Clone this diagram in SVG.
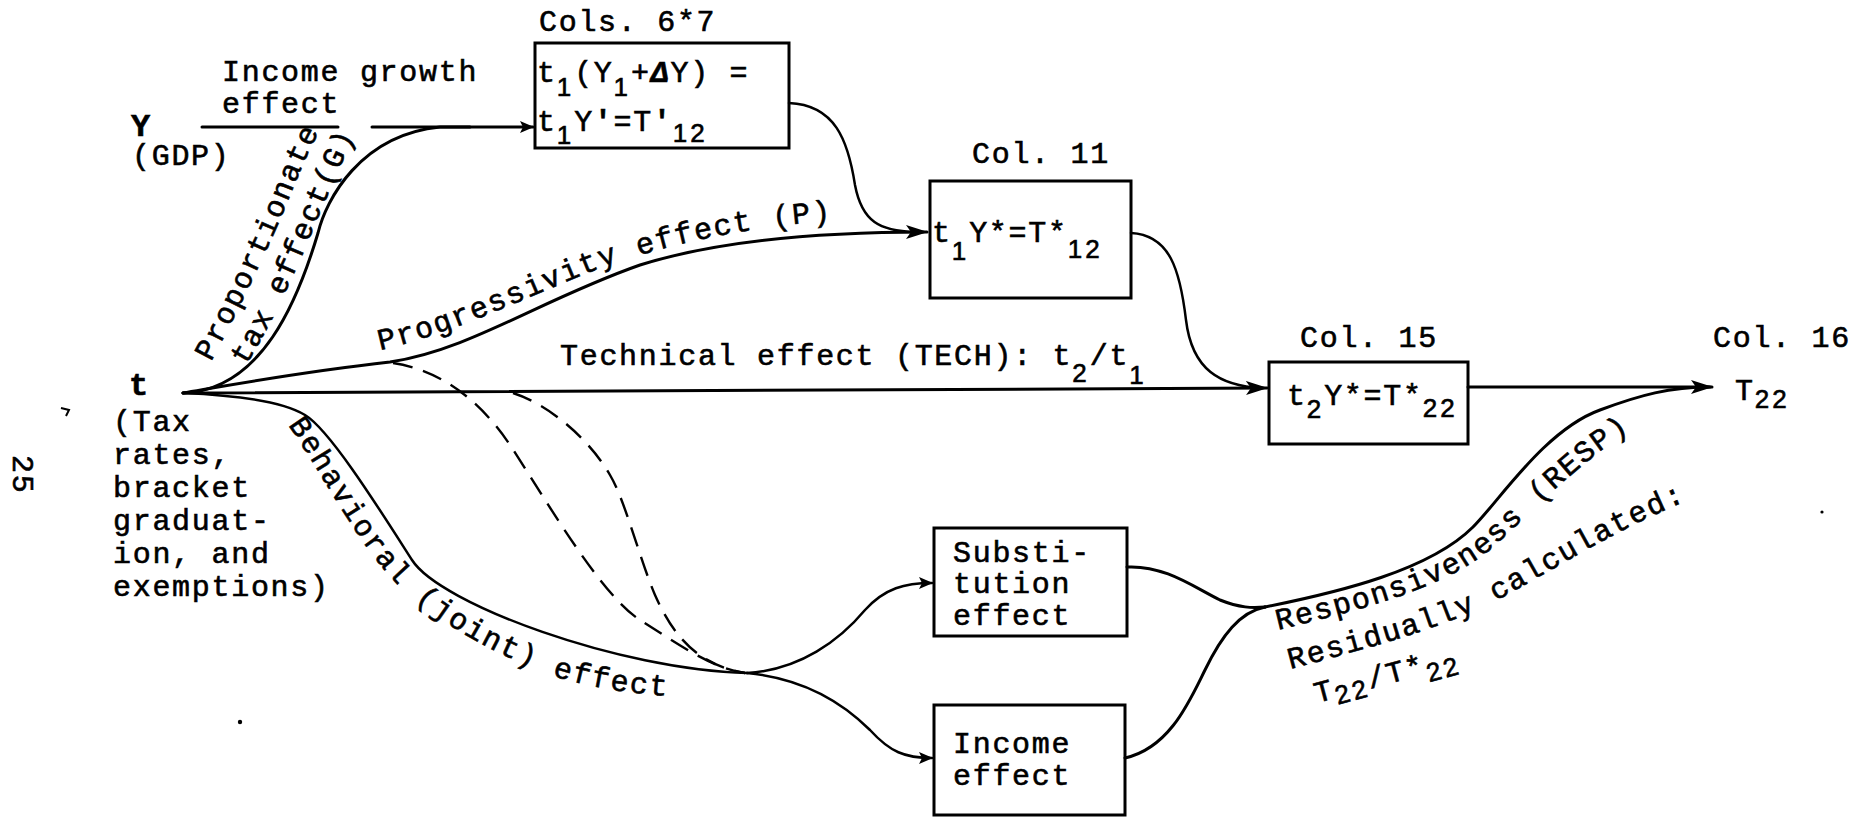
<svg xmlns="http://www.w3.org/2000/svg" width="1872" height="818" viewBox="0 0 1872 818">
  <style>
    .tw { font-family: "Liberation Mono", "Courier New", monospace; font-size: 30px; letter-spacing: 1.7px; fill: #000; stroke: #000; stroke-width: 0.6; }
    .bd { font-weight: bold; font-size: 32px; }
    .sub { font-family: "Liberation Sans", Arial, sans-serif; font-size: 26px; letter-spacing: 3px; }
    .box { fill: none; stroke: #000; stroke-width: 3; }
    .ln { fill: none; stroke: #000; stroke-width: 3; stroke-linecap: round; }
    .thin { stroke-width: 2.5; }
    .dash { fill: none; stroke: #000; stroke-width: 2.4; stroke-dasharray: 20 11; }
  </style>
  <defs>
    <marker id="ah" viewBox="0 0 22 16" refX="21" refY="8" markerWidth="22" markerHeight="16" markerUnits="userSpaceOnUse" orient="auto">
      <path d="M0,1 L22,8 L0,15 L5,8 z" fill="#000"/>
    </marker>
    <marker id="ahs" viewBox="0 0 14 12" refX="13" refY="6" markerWidth="14" markerHeight="12" markerUnits="userSpaceOnUse" orient="auto">
      <path d="M0,0 L14,6 L0,12 L3,6 z" fill="#000"/>
    </marker>
    <!-- baselines for the curved labels -->
    <path id="pProp" d="M211,362 C241,305 265,255 280,220 C295,185 305,155 326,120"/>
    <path id="pTax" d="M246,366 C278,312 300,262 315,225 C330,190 342,160 360,127"/>
    <path id="pProg" d="M380,350 C450,335 520,300 600,268 C680,240 760,225 845,220"/>
    <path id="pBeh" d="M288,425 C320,470 355,540 395,582 C430,615 480,650 560,678 C600,690 640,695 700,698"/>
    <path id="pResp" d="M1278,630 C1360,610 1440,590 1490,550 C1540,505 1585,455 1645,422"/>
    <path id="pResid" d="M1290,669 C1380,645 1445,628 1505,596 C1565,563 1620,527 1692,499"/>
  </defs>

  <rect width="1872" height="818" fill="#fff"/>

  <!-- page number and marks -->
  <text class="tw" transform="translate(13,455) rotate(90)">25</text>
  <path d="M61,408 L69,410 L66,416" fill="none" stroke="#000" stroke-width="2"/>
  <circle cx="240" cy="722" r="2.2" fill="#000"/>
  <circle cx="1822" cy="512" r="1.6" fill="#000"/>

  <!-- connectors -->
  <g id="connectors">
    <path class="ln" d="M202,127 L338,127"/>
    <path class="ln" d="M372,127 L533,127" marker-end="url(#ahs)"/>
    <path class="ln" d="M183,393 C262,390 298,300 318,233 C326,200 360,135 440,127 L470,127"/>
    <path class="ln" d="M183,393 C230,385 300,372 390,362 C470,350 540,300 640,265 C720,240 820,232 927,232" marker-end="url(#ah)"/>
    <path class="ln thin" d="M789,103 C835,105 848,140 855,185 C862,222 880,231 915,232"/>
    <path class="ln" d="M183,393 L1267,388" marker-end="url(#ah)"/>
    <path class="ln thin" d="M1131,233 C1170,235 1180,270 1186,320 C1192,370 1220,386 1262,388"/>
    <path class="ln" d="M1468,387 L1712,387" marker-end="url(#ah)"/>
    <path class="ln thin" d="M183,393 C230,395 280,400 305,415 C330,430 380,510 412,560 C440,604 620,670 747,673"/>
    <path class="ln thin" d="M747,673 C800,670 840,640 865,610 C885,588 905,583 932,583" marker-end="url(#ahs)"/>
    <path class="ln thin" d="M747,673 C800,678 840,700 870,730 C890,752 905,758 932,758" marker-end="url(#ahs)"/>
    <path class="dash" d="M393,363 C440,370 480,400 510,445 C540,490 600,595 640,620 C672,640 710,668 745,673"/>
    <path class="dash" d="M513,393 C550,405 590,440 610,475 C625,500 640,560 655,595 C675,640 700,665 745,673"/>
    <path class="ln" d="M1127,567 C1165,565 1195,588 1220,600 C1240,608 1252,608 1265,607"/>
    <path class="ln" d="M1125,758 C1170,748 1190,700 1205,670 C1222,635 1240,612 1265,607"/>
    <path class="ln" d="M1265,607 C1340,592 1430,570 1473,527 C1500,500 1545,430 1600,410 C1640,395 1670,387 1710,387"/>
  </g>

  <!-- connector labels -->
  <g id="edge-labels">
    <text class="tw" x="222" y="81">Income growth</text>
    <text class="tw" x="222" y="113">effect</text>
    <text class="tw"><textPath href="#pProp">Proportionate</textPath></text>
    <text class="tw"><textPath href="#pTax">tax effect(G)</textPath></text>
    <text class="tw"><textPath href="#pProg">Progressivity effect (P)</textPath></text>
    <text class="tw" x="560" y="365">Technical effect (TECH): t<tspan class="sub" dy="17">2</tspan><tspan dy="-17">/t</tspan><tspan class="sub" dy="19">1</tspan></text>
    <text class="tw"><textPath href="#pBeh">Behavioral (joint) effect</textPath></text>
    <text class="tw"><textPath href="#pResp">Responsiveness (RESP)</textPath></text>
    <text class="tw"><textPath href="#pResid">Residually calculated:</textPath></text>
    <text class="tw" transform="rotate(-15 1317 703)" x="1317" y="703">T<tspan class="sub" dy="7">22</tspan><tspan dy="-7">/T*</tspan><tspan class="sub" dy="9">22</tspan></text>
  </g>

  <!-- sources -->
  <g id="node-Y">
    <text class="tw bd" x="131" y="136">Y</text>
    <text class="tw" x="132" y="165">(GDP)</text>
  </g>
  <g id="node-t">
    <text class="tw bd" x="129" y="395">t</text>
    <text class="tw" x="113" y="431">(Tax</text>
    <text class="tw" x="113" y="464">rates,</text>
    <text class="tw" x="113" y="497">bracket</text>
    <text class="tw" x="113" y="530">graduat-</text>
    <text class="tw" x="113" y="563">ion, and</text>
    <text class="tw" x="113" y="596">exemptions)</text>
  </g>

  <!-- column boxes -->
  <g id="node-cols67">
    <text class="tw" x="539" y="31">Cols. 6*7</text>
    <rect class="box" x="535" y="43" width="254" height="105"/>
    <text class="tw" x="537" y="82">t<tspan class="sub" dy="14">1</tspan><tspan dy="-14">(Y</tspan><tspan class="sub" dy="14">1</tspan><tspan dy="-14">+</tspan><tspan font-weight="bold" font-style="italic">Δ</tspan>Y) =</text>
    <text class="tw" x="537" y="131">t<tspan class="sub" dy="13">1</tspan><tspan dy="-13">Y<tspan font-weight="bold">'</tspan>=T<tspan font-weight="bold">'</tspan></tspan><tspan class="sub" dy="11">12</tspan></text>
  </g>
  <g id="node-col11">
    <text class="tw" x="972" y="163">Col. 11</text>
    <rect class="box" x="930" y="181" width="201" height="117"/>
    <text class="tw" x="932" y="242">t<tspan class="sub" dy="18">1</tspan><tspan dy="-18">Y*=T*</tspan><tspan class="sub" dy="16">12</tspan></text>
  </g>
  <g id="node-col15">
    <text class="tw" x="1300" y="347">Col. 15</text>
    <rect class="box" x="1269" y="362" width="199" height="82"/>
    <text class="tw" x="1287" y="405">t<tspan class="sub" dy="13">2</tspan><tspan dy="-13">Y*=T*</tspan><tspan class="sub" dy="12">22</tspan></text>
  </g>
  <g id="node-col16">
    <text class="tw" x="1713" y="347">Col. 16</text>
    <text class="tw" x="1735" y="400">T<tspan class="sub" dy="8">22</tspan></text>
  </g>

  <!-- behavioral split -->
  <g id="node-substitution">
    <rect class="box" x="934" y="528" width="193" height="108"/>
    <text class="tw" x="953" y="562">Substi-</text>
    <text class="tw" x="953" y="593">tution</text>
    <text class="tw" x="953" y="625">effect</text>
  </g>
  <g id="node-income">
    <rect class="box" x="934" y="705" width="191" height="110"/>
    <text class="tw" x="953" y="753">Income</text>
    <text class="tw" x="953" y="785">effect</text>
  </g>
</svg>
